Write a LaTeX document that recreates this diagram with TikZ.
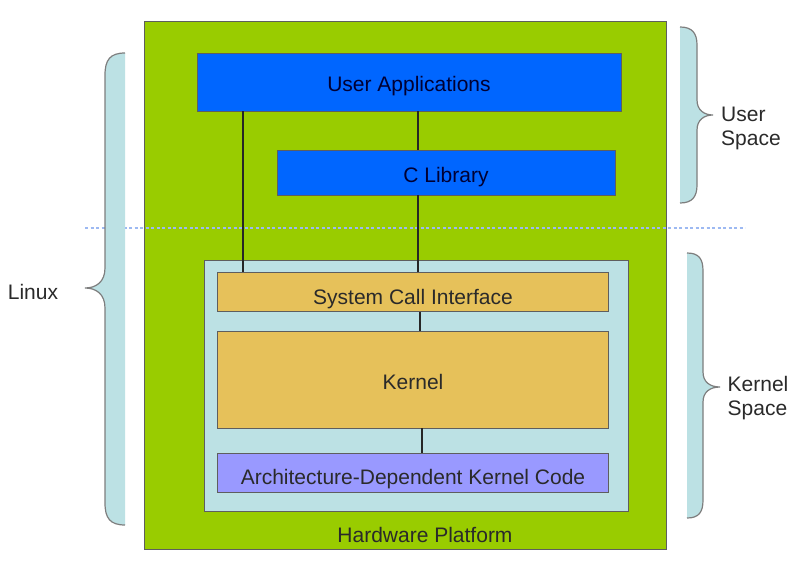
\documentclass[tikz,border=0pt]{standalone}
\usepackage{fontspec}
\setmainfont{Liberation Sans}
\usetikzlibrary{positioning}

\definecolor{hwgreen}{HTML}{99CC00}
\definecolor{userblue}{HTML}{0066FF}
\definecolor{kernbg}{HTML}{BCE1E4}
\definecolor{kernorange}{HTML}{E6C15A}
\definecolor{archpurple}{HTML}{9999FF}
\definecolor{edgegrey}{HTML}{5E5E5E}
\definecolor{txtdark}{HTML}{2A2A2A}
\definecolor{dotblue}{HTML}{9DB9F2}

\tikzset{
  caption/.style={font=\fontsize{21}{24}\selectfont, text=txtdark},
  layer/.style={draw=edgegrey, line width=0.8pt, inner sep=0pt, caption,
    text height=20pt, text depth=0pt},
  userlayer/.style={layer, fill=userblue, text=black!80!blue},
  kernlayer/.style={layer, fill=kernorange},
  link/.style={line width=1.8pt, black!85},
  bracedraw/.style={draw=edgegrey!80, line width=1.2pt},
}

\begin{document}
\begin{tikzpicture}[x=1pt, y=-1pt]
  \useasboundingbox[fill=white] (0,0) rectangle (794,577);

  % hardware platform
  \node[layer, fill=hwgreen, minimum width=522pt, minimum height=528pt] (hw) at (405,285) {};
  \node[caption] (hwlabel) at (425,535) {Hardware Platform};

  % user space
  \node[userlayer, minimum width=424pt, minimum height=58pt] (userapps) at (409,82) {User Applications};
  \node[userlayer, minimum width=338pt, minimum height=45pt] (clib) at (446,172.5) {C Library};

  % kernel space
  \node[layer, fill=kernbg, minimum width=424pt, minimum height=251pt] (kernelbox) at (416,385.5) {};
  \node[kernlayer, minimum width=391pt, minimum height=39pt, text height=25pt] (sci) at (413,292) {System Call Interface};
  \node[kernlayer, minimum width=391pt, minimum height=97pt] (kernel) at (413,379.5) {Kernel};
  \node[layer, fill=archpurple, minimum width=391pt, minimum height=39pt, text height=23pt] (archcode) at (413,472.5) {Architecture-Dependent Kernel Code};

  % user/kernel split
  \coordinate (splitL) at (85,228);
  \coordinate (splitR) at (745,228);
  \draw[dotblue, line width=1.6pt, dash pattern=on 3pt off 2.5pt] (splitL) -- (splitR);

  % calls
  \coordinate (callA) at (243,0);
  \coordinate (callB) at (418,0);
  \coordinate (callC) at (420,0);
  \coordinate (callD) at (422,0);
  \draw[link] (userapps.south -| callA) -- (sci.north -| callA);
  \draw[link] (userapps.south -| callB) -- (clib.north -| callB);
  \draw[link] (clib.south -| callB) -- (sci.north -| callB);
  \draw[link] (sci.south -| callC) -- (kernel.north -| callC);
  \draw[link] (kernel.south -| callD) -- (archcode.north -| callD);

  % braces
  \fill[kernbg] (125,53) .. controls (110,53) and (105,60) .. (105,75) -- (105,268)
    .. controls (105,282) and (96,288) .. (85,288) .. controls (96,288) and (105,294) .. (105,308)
    -- (105,503) .. controls (105,518) and (110,525) .. (125,525) -- cycle;
  \draw[bracedraw] (125,53) .. controls (110,53) and (105,60) .. (105,75) -- (105,268)
    .. controls (105,282) and (96,288) .. (85,288) .. controls (96,288) and (105,294) .. (105,308)
    -- (105,503) .. controls (105,518) and (110,525) .. (125,525);

  \fill[kernbg] (680,27) .. controls (692,27) and (697,33) .. (697,45) -- (697,100)
    .. controls (697,110) and (704,115) .. (713,115) .. controls (704,115) and (697,120) .. (697,130)
    -- (697,185) .. controls (697,197) and (692,203) .. (680,203) -- cycle;
  \draw[bracedraw] (680,27) .. controls (692,27) and (697,33) .. (697,45) -- (697,100)
    .. controls (697,110) and (704,115) .. (713,115) .. controls (704,115) and (697,120) .. (697,130)
    -- (697,185) .. controls (697,197) and (692,203) .. (680,203);

  \fill[kernbg] (687,253) .. controls (699,253) and (703,259) .. (703,271) -- (703,372)
    .. controls (703,382) and (710,387) .. (720,387) .. controls (710,387) and (703,392) .. (703,402)
    -- (703,500) .. controls (703,512) and (699,518) .. (687,518) -- cycle;
  \draw[bracedraw] (687,253) .. controls (699,253) and (703,259) .. (703,271) -- (703,372)
    .. controls (703,382) and (710,387) .. (720,387) .. controls (710,387) and (703,392) .. (703,402)
    -- (703,500) .. controls (703,512) and (699,518) .. (687,518);

  % side labels
  \node[caption] (linux) at (33,292) {Linux};
  \node[caption, align=left] (userspace) at (751,128) {User\\Space};
  \node[caption, align=left] (kernelspace) at (758,398) {Kernel\\Space};
\end{tikzpicture}
\end{document}
